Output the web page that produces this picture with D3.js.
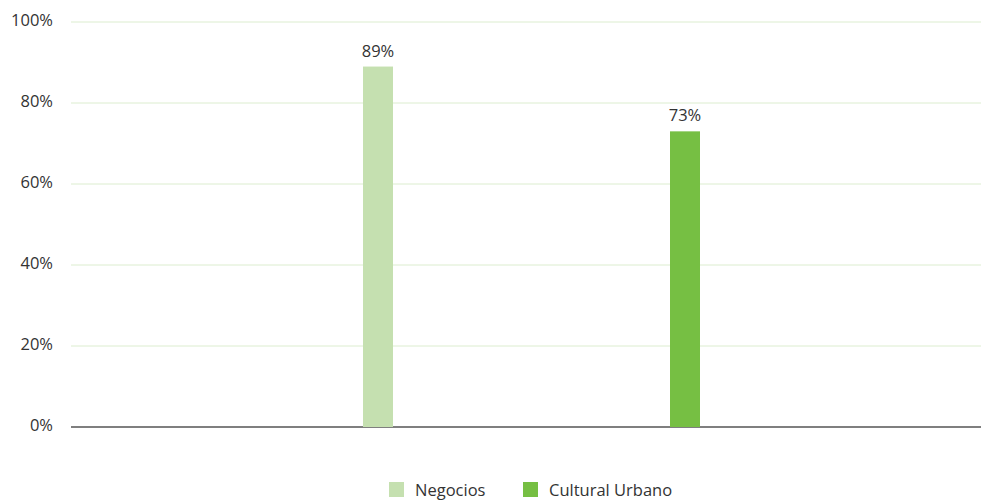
<!DOCTYPE html>
<html>
<head>
<meta charset="utf-8">
<script src="https://cdn.jsdelivr.net/npm/d3@7"></script>
<style>
  html, body { margin: 0; padding: 0; background: #fff; }
  svg { display: block; font-family: "Open Sans", "Noto Sans", sans-serif; }
</style>
</head>
<body>
<svg id="chart" width="981" height="502"></svg>
<script>
// Share of travellers by trip type
const categories = ["Negocios", "Cultural Urbano"];
const values = [89, 73];
const colors = ["#c5e0b0", "#76bf43"];
const yTicks = [0, 20, 40, 60, 80, 100];

(function draw() {
  const svg = d3.select("#chart");
  const m = { left: 71, right: 981, top: 22, bottom: 427 };
  const fs = 16.5;

  const y = d3.scaleLinear().domain([0, 100]).range([m.bottom, m.top]);
  const x = d3.scalePoint().domain(categories).range([m.left, 992]).padding(1);
  const barW = 30;

  // grid lines
  svg.append("g").selectAll("line").data(yTicks.filter(d => d > 0)).join("line")
    .attr("x1", m.left).attr("x2", m.right)
    .attr("y1", d => y(d)).attr("y2", d => y(d))
    .attr("stroke", "#dcedcf").attr("stroke-width", 1);

  // y axis labels
  const yAxis = d3.axisLeft(y).tickValues(yTicks).tickFormat(d => d + "%").tickSize(0).tickPadding(18);
  const ya = svg.append("g").attr("transform", `translate(${m.left},0)`).call(yAxis);
  ya.select(".domain").remove();
  ya.selectAll("text").attr("font-size", fs).attr("fill", "#333")
    .attr("font-family", "Open Sans, Noto Sans, sans-serif").attr("dy", "0.2em");

  // baseline
  svg.append("line").attr("x1", m.left).attr("x2", m.right)
    .attr("y1", y(0)).attr("y2", y(0))
    .attr("stroke", "#555").attr("stroke-width", 1.5);

  // bars
  svg.append("g").selectAll("rect").data(categories).join("rect")
    .attr("x", d => x(d) - barW / 2)
    .attr("width", barW)
    .attr("y", (d, i) => y(values[i]))
    .attr("height", (d, i) => y(0) - y(values[i]))
    .attr("fill", (d, i) => colors[i]);

  // value labels
  svg.append("g").selectAll("text").data(categories).join("text")
    .attr("x", d => x(d))
    .attr("y", (d, i) => y(values[i]) - 10)
    .attr("text-anchor", "middle")
    .attr("font-size", fs).attr("fill", "#333")
    .text((d, i) => values[i] + "%");

  // legend
  const legendX = [389, 523];
  const lg = svg.append("g").selectAll("g").data(categories).join("g")
    .attr("transform", (d, i) => `translate(${legendX[i]},482)`);
  lg.append("rect").attr("width", 15).attr("height", 15).attr("fill", (d, i) => colors[i]);
  lg.append("text").attr("x", 26).attr("y", 14)
    .attr("font-size", fs).attr("fill", "#333").text(d => d);
})();
</script>
</body>
</html>
